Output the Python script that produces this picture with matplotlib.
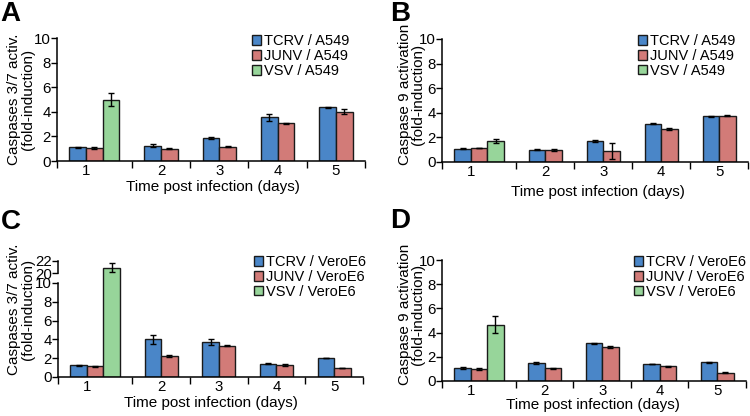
import numpy as np
import matplotlib
matplotlib.use('Agg')
import matplotlib.pyplot as plt

plt.rcParams['font.family'] = ['Liberation Sans', 'DejaVu Sans']
plt.rcParams['font.size'] = 11

days = ['1', '2', '3', '4', '5']

# panel A: caspases 3/7, A549
a_tcrv = [1.1, 1.25, 1.85, 3.55, 4.35]
a_tcrv_err = [0.07, 0.15, 0.1, 0.28, 0.05]
a_junv = [1.05, 1.0, 1.15, 3.05, 4.0]
a_junv_err = [0.05, 0.04, 0.04, 0.05, 0.2]
a_vsv = [5.0]
a_vsv_err = [0.5]

# panel B: caspase 9, A549
b_tcrv = [1.08, 1.0, 1.7, 3.12, 3.72]
b_tcrv_err = [0.05, 0.02, 0.05, 0.05, 0.05]
b_junv = [1.15, 0.97, 0.92, 2.7, 3.77]
b_junv_err = [0.02, 0.05, 0.65, 0.08, 0.05]
b_vsv = [1.68]
b_vsv_err = [0.15]

# panel C: caspases 3/7, VeroE6
c_tcrv = [1.25, 4.0, 3.75, 1.4, 2.0]
c_tcrv_err = [0.03, 0.45, 0.3, 0.06, 0.02]
c_junv = [1.15, 2.25, 3.35, 1.3, 0.95]
c_junv_err = [0.05, 0.1, 0.1, 0.08, 0.04]
c_vsv = [20.9]
c_vsv_err = [0.8]

# panel D: caspase 9, VeroE6
d_tcrv = [1.1, 1.5, 3.1, 1.4, 1.55]
d_tcrv_err = [0.07, 0.08, 0.07, 0.02, 0.05]
d_junv = [1.0, 1.05, 2.8, 1.2, 0.7]
d_junv_err = [0.07, 0.05, 0.08, 0.05, 0.05]
d_vsv = [4.65]
d_vsv_err = [0.7]

colors = ['#4a86c8', '#d27b78', '#97d59a']
edge = '#1a1a1a'
fs = 11
tick_fs = 10.8
leg_fs = 10.5


def draw_panel(ax, tcrv, tcrv_err, junv, junv_err, vsv, vsv_err, cell, ylabel, leg_anchor):
    # each day gets a slot per bar plus 0.75 bar of padding on each side
    nbars = [2 + (1 if i < len(vsv) else 0) for i in range(len(days))]
    widths = np.array(nbars) + 1.5
    bounds = np.concatenate([[0], np.cumsum(widths)])
    starts = bounds[:-1] + 0.75
    series = [(tcrv, tcrv_err, 'TCRV'), (junv, junv_err, 'JUNV'), (vsv, vsv_err, 'VSV')]
    for k, (vals, errs, name) in enumerate(series):
        x = starts[:len(vals)] + k + 0.5
        ax.bar(x, vals, width=1.0, color=colors[k], edgecolor=edge, linewidth=1.0,
               yerr=errs, capsize=2.5, error_kw={'elinewidth': 1.0, 'capthick': 1.0},
               label='%s / %s' % (name, cell), zorder=2)
    ax.set_xlim(bounds[0], bounds[-1])
    ax.set_xticks(bounds)
    ax.set_xticklabels([])
    ax.set_xticks(starts + 1.0, minor=True)
    ax.set_xticklabels(days, minor=True)
    ax.tick_params(axis='x', which='major', direction='out', length=5, width=1.0)
    ax.tick_params(axis='x', which='minor', length=0, pad=2.5, labelsize=tick_fs)
    ax.tick_params(axis='y', direction='out', length=4, width=1.0, pad=0.5, labelsize=tick_fs)
    for s in ['top', 'right']:
        ax.spines[s].set_visible(False)
    for s in ['left', 'bottom']:
        ax.spines[s].set_linewidth(1.1)
    ax.set_ylabel(ylabel, fontsize=fs, linespacing=0.95, va='center')
    ax.set_xlabel('Time post infection (days)', fontsize=fs, va='center')
    ax.legend(loc='upper right', bbox_to_anchor=leg_anchor, frameon=False,
              handlelength=0.65, handleheight=0.65, handletextpad=0.2,
              labelspacing=0.05, borderpad=0, borderaxespad=0, fontsize=leg_fs)


fig = plt.figure(figsize=(7.5, 4.16), dpi=100)

ax_a = fig.add_axes([57 / 750, 1 - 161 / 416, 308 / 750, 123 / 416])
ax_b = fig.add_axes([442 / 750, 1 - 162 / 416, 306 / 750, 123 / 416])
ax_c = fig.add_axes([58 / 750, 1 - 377 / 416, 305 / 750, 116 / 416])
ax_d = fig.add_axes([442 / 750, 1 - 381 / 416, 304 / 750, 121 / 416])

# broken axis for panel C: 0-10 linear, then a compressed 20-22 section
brk_in = [-100, 10, 20, 100]
brk_out = [-100, 10, 11.06, 11.06 + 80 * 0.64]
ax_c.set_yscale('function', functions=(lambda y: np.interp(y, brk_in, brk_out),
                                       lambda t: np.interp(t, brk_out, brk_in)))

draw_panel(ax_a, a_tcrv, a_tcrv_err, a_junv, a_junv_err, a_vsv, a_vsv_err, 'A549',
           'Caspases 3/7 activ.\n(fold-induction)', (0.95, 1.03))
draw_panel(ax_b, b_tcrv, b_tcrv_err, b_junv, b_junv_err, b_vsv, b_vsv_err, 'A549',
           'Caspase 9 activation\n(fold-induction)', (0.96, 1.04))
draw_panel(ax_c, c_tcrv, c_tcrv_err, c_junv, c_junv_err, c_vsv, c_vsv_err, 'VeroE6',
           'Caspases 3/7 activ.\n(fold-induction)', (1.01, 1.05))
draw_panel(ax_d, d_tcrv, d_tcrv_err, d_junv, d_junv_err, d_vsv, d_vsv_err, 'VeroE6',
           'Caspase 9 activation\n(fold-induction)', (1.0, 1.04))

for ax in [ax_a, ax_b, ax_d]:
    ax.set_ylim(0, 10)
    ax.set_yticks([0, 2, 4, 6, 8, 10])

ax_c.set_ylim(0, 22)
ax_c.set_yticks([0, 2, 4, 6, 8, 10, 20, 22])
ax_c.spines['left'].set_visible(False)
tr = ax_c.get_yaxis_transform()
ax_c.plot([0, 0], [0, 10], color='black', lw=1.1, transform=tr, clip_on=False)
ax_c.plot([0, 0], [20, 22], color='black', lw=1.1, transform=tr, clip_on=False)

ax_a.yaxis.set_label_coords(-0.117, 0.5)
ax_b.yaxis.set_label_coords(-0.1, 0.55)
ax_c.yaxis.set_label_coords(-0.121, 0.58)
ax_d.yaxis.set_label_coords(-0.1, 0.55)
ax_a.xaxis.set_label_coords(0.505, -0.215)
ax_b.xaxis.set_label_coords(0.51, -0.245)
ax_c.xaxis.set_label_coords(0.5, -0.225)
ax_d.xaxis.set_label_coords(0.497, -0.2)

for x, y, t in [(0.001, 0.997, 'A'), (0.52, 0.997, 'B'), (0.001, 0.497, 'C'), (0.52, 0.5, 'D')]:
    fig.text(x, y, t, fontsize=20, fontweight='bold', va='top', ha='left')

fig.savefig('out.png', dpi=100)
